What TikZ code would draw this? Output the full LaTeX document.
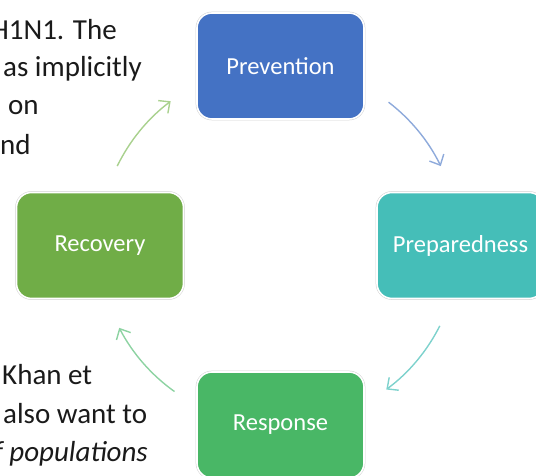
\documentclass[tikz,border=0pt]{standalone}
\usepackage{fontspec}
\setmainfont{Carlito}
\usetikzlibrary{arrows.meta}
\definecolor{cPrev}{HTML}{4472C4}
\definecolor{cPrep}{HTML}{45BEB8}
\definecolor{cRec}{HTML}{70AD47}
\definecolor{cResp}{HTML}{49B766}
\definecolor{aPrev}{HTML}{8EAADB}
\definecolor{aPrep}{HTML}{7ED2CD}
\definecolor{aResp}{HTML}{8DD3A2}
\definecolor{aRec}{HTML}{A9D18E}
\definecolor{txt}{HTML}{1A1A1A}
\tikzset{
  stage/.style={rectangle, rounded corners=15pt, minimum width=167pt, minimum height=106pt,
    draw=white, line width=1.6pt, text=white, font=\fontsize{24.5}{29}\selectfont,
    preaction={draw=black!18, line width=2.6pt}},
  body/.style={inner sep=0pt, text=txt, font=\fontsize{29}{34}\selectfont},
  cyc/.style={line width=1.4pt, -{Straight Barb[length=8.5pt,width=16pt,line width=1.4pt]}},
}
\begin{document}
\begin{tikzpicture}[x=1pt,y=1pt]
\useasboundingbox (0,0) rectangle (536,476);
\clip (0,0) rectangle (536,476);
% side text
\node[body, anchor=base east] (t1) at (117,436) {H1N1. The};
\node[body, anchor=base west] (t2) at (3,399) {as implicitly};
\node[body, anchor=base west] (t3) at (8,361) {on};
\node[body, anchor=base west] (t4) at (0,321) {nd};
\node[body, anchor=base west] (b1) at (2,91) {Khan et};
\node[body, anchor=base west] (b2) at (3,52) {also want to};
\node[body, anchor=base east] (b3) at (148,14) {\itshape f populations};
% stages
\node[stage, fill=cPrev] (prev) at (280.5,410) {Prevention};
\node[stage, fill=cPrep] (prep) at (460.5,230.5) {Preparedness};
\node[stage, fill=cRec] (rec) at (100,230.5) {Recovery};
\node[stage, fill=cResp] (resp) at (280.5,51) {Response};
% cycle arrows
\coordinate (C) at (279,231);
\coordinate (s1) at ([shift={(52.5:180)}]C);
\coordinate (s2) at ([shift={(-26.7:180)}]C);
\coordinate (s3) at ([shift={(-125.5:180)}]C);
\coordinate (s4) at ([shift={(154:180)}]C);
\draw[cyc, aPrev] (s1) arc[start angle=52.5, end angle=26, radius=180];
\draw[cyc, aPrep] (s2) arc[start angle=-26.7, end angle=-53.4, radius=180];
\draw[cyc, aResp] (s3) arc[start angle=-125.5, end angle=-152.6, radius=180];
\draw[cyc, aRec] (s4) arc[start angle=154, end angle=127, radius=180];
\end{tikzpicture}
\end{document}
